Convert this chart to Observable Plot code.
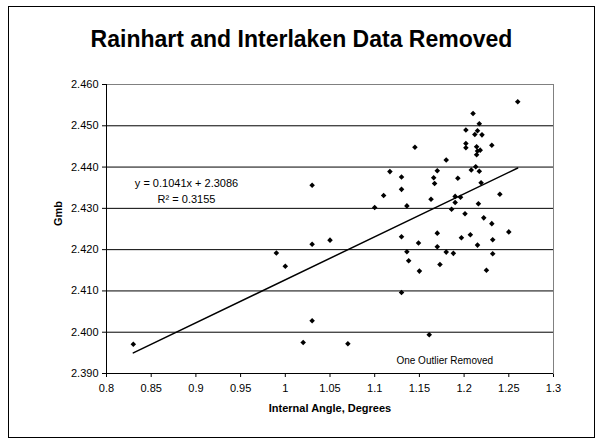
<!DOCTYPE html>
<html>
<head>
<meta charset="utf-8">
<script src="https://cdn.jsdelivr.net/npm/d3@7"></script>
<script src="https://cdn.jsdelivr.net/npm/@observablehq/plot@0.6"></script>
<style>
  body { margin: 0; background: #fff; }
  #chart { position: relative; width: 603px; height: 442px; font-family: "Liberation Sans", Arial, sans-serif; background: #fff; }
  #chart svg { position: absolute; left: 0; top: 0; }
  #border { position: absolute; left: 8px; top: 6px; width: 585px; height: 430px; border: 1px solid #000; }
  #title { position: absolute; left: 0; top: 28px; width: 603px; text-align: center; font-weight: bold; font-size: 23px; line-height: 23px; color: #000; }
</style>
</head>
<body>
<div id="chart">
  <div id="border"></div>
  <div id="title">Rainhart and Interlaken Data Removed</div>
</div>
<script>
// Internal angle (degrees) and Gmb for each mix sample
const angle = [
  1.260, 1.210, 1.217, 1.202, 1.215, 1.212, 1.220, 1.145, 1.202, 1.202,
  1.214, 1.218, 1.215, 1.214, 1.231, 1.180, 1.117, 1.130, 1.170, 1.166,
  1.167, 1.213, 1.208, 1.217, 1.193, 1.219, 1.030, 1.110, 1.130, 1.190,
  1.196, 1.163, 1.240, 1.190, 1.216, 1.100, 1.136, 1.186, 1.201, 1.222,
  1.231, 1.250, 1.130, 1.170, 1.197, 1.207, 1.232, 1.030, 1.050, 1.149,
  1.170, 1.215, 1.136, 1.180, 1.188, 1.232, 1.138, 1.173, 1.150, 1.225,
  1.130, 1.030, 1.161, 1.020, 1.070, 0.990, 1.000, 0.830
];
const gmb = [
  2.4558, 2.4530, 2.4505, 2.4490, 2.4488, 2.4479, 2.4478, 2.4448, 2.4457, 2.4447,
  2.4449, 2.4441, 2.4439, 2.4430, 2.4453, 2.4417, 2.4389, 2.4376, 2.4391, 2.4374,
  2.4360, 2.4401, 2.4393, 2.4390, 2.4373, 2.4362, 2.4356, 2.4331, 2.4346, 2.4329,
  2.4327, 2.4322, 2.4334, 2.4314, 2.4311, 2.4302, 2.4306, 2.4298, 2.4287, 2.4277,
  2.4263, 2.4243, 2.4231, 2.4240, 2.4229, 2.4236, 2.4224, 2.4213, 2.4223, 2.4216,
  2.4207, 2.4211, 2.4195, 2.4194, 2.4191, 2.4190, 2.4173, 2.4164, 2.4148, 2.4150,
  2.4096, 2.4028, 2.3994, 2.3975, 2.3972, 2.4192, 2.4160, 2.3971
];

// Linear trendline coefficients
const slope = 0.1041;
const intercept = 2.3086;
const r2 = 0.3155;

const xTicks = [0.8, 0.85, 0.9, 0.95, 1, 1.05, 1.1, 1.15, 1.2, 1.25, 1.3];
const yTicks = [2.39, 2.40, 2.41, 2.42, 2.43, 2.44, 2.45, 2.46];

const points = angle.map((a, i) => ({angle: a, gmb: gmb[i]}));
const [xMin, xMax] = d3.extent(angle);
const trend = [xMin, xMax].map(x => ({x, y: slope * x + intercept}));

const font = '"Liberation Sans", Arial, sans-serif';

const chart = Plot.plot({
  width: 603,
  height: 442,
  marginLeft: 106,
  marginRight: 50,
  marginTop: 84,
  marginBottom: 69,
  style: {fontFamily: font, fontSize: "11px", color: "#000", background: "transparent", overflow: "visible"},
  x: {domain: [0.8, 1.3], ticks: xTicks, tickFormat: d3.format("~g"), tickSize: 4, tickPadding: 7, label: null},
  y: {domain: [2.39, 2.46], ticks: yTicks, tickFormat: d3.format(".3f"), tickSize: 4, tickPadding: 4, label: null},
  marks: [
    Plot.ruleY(yTicks, {stroke: "#000", strokeWidth: 1}),
    Plot.frame({stroke: "#808080"}),
    Plot.ruleX([0.8], {stroke: "#000"}),
    Plot.ruleY([2.39], {stroke: "#000"}),
    Plot.line(trend, {x: "x", y: "y", stroke: "#000", strokeWidth: 1.5}),
    Plot.dot(points, {x: "angle", y: "gmb", symbol: "diamond2", r: 2.5, fill: "#000", stroke: null}),
    Plot.text([`y = ${slope}x + ${intercept}`], {x: 0.8895, y: 2.4361, text: d => d, fontSize: 11, fill: "#000"}),
    Plot.text([`R² = ${r2}`], {x: 0.8895, y: 2.4322, text: d => d, fontSize: 11, fill: "#000"}),
    Plot.text(["One Outlier Removed"], {x: 1.1784, y: 2.393, text: d => d, fontSize: 10, fill: "#000"}),
    Plot.text(["Gmb"], {frameAnchor: "left", dx: -48, dy: -3, rotate: -90, text: d => d, fontWeight: "bold", fontSize: 11, fill: "#000"}),
    Plot.text(["Internal Angle, Degrees"], {frameAnchor: "bottom", dy: 38, text: d => d, fontWeight: "bold", fontSize: 11, fill: "#000"})
  ]
});

document.getElementById("chart").appendChild(chart);
</script>
</body>
</html>
